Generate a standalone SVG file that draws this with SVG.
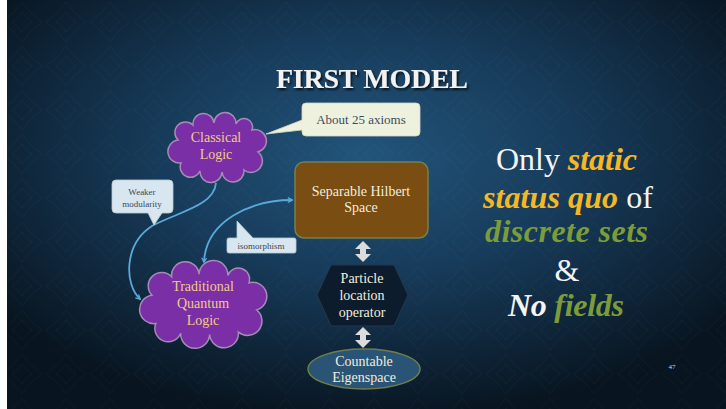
<svg xmlns="http://www.w3.org/2000/svg" width="726" height="409" viewBox="0 0 726 409">
<defs>
<radialGradient id="bg" cx="0.5" cy="0.38" r="0.65">
<stop offset="0" stop-color="#22547a"/>
<stop offset="0.45" stop-color="#173b5a"/>
<stop offset="1" stop-color="#08141f"/>
</radialGradient>
<pattern id="dam" width="44" height="44" patternUnits="userSpaceOnUse">
<path d="M22 2 Q30 14 42 22 Q30 30 22 42 Q14 30 2 22 Q14 14 22 2 Z M22 12 Q26 18 32 22 Q26 26 22 32 Q18 26 12 22 Q18 18 22 12 Z" fill="none" stroke="#9cc4e4" stroke-width="1" opacity="0.035"/>
</pattern>
<filter id="sh" x="-10%" y="-20%" width="120%" height="150%">
<feDropShadow dx="1.5" dy="2" stdDeviation="1.2" flood-color="#000" flood-opacity="0.8"/>
</filter>
<marker id="ah" viewBox="0 0 10 10" refX="8" refY="5" markerWidth="6" markerHeight="6" orient="auto-start-reverse" markerUnits="userSpaceOnUse">
<path d="M1 1 L9 5 L1 9" fill="none" stroke="#5aa9dc" stroke-width="2"/>
</marker>
</defs>
<style>
.serif{font-family:"Liberation Serif","DejaVu Serif",serif}
.cloud{fill:#7b2fa6;stroke:#a58cb5;stroke-width:1.5}
.cl{fill:#f3c98a;font-size:14px;text-anchor:middle}
.call{fill:#d8e6ef;stroke:#b9cbd6;stroke-width:0.8}
.small{fill:#3a4858;font-size:9px;text-anchor:middle}
.wt{fill:#f2ecdd;font-size:14px;text-anchor:middle}
.conn{fill:none;stroke:#5aa9dc;stroke-width:1.8}
.dbl{fill:#dcdcdc}
.big{font-size:32px;text-anchor:middle}
.y{fill:#f4b824;font-weight:bold;font-style:italic}
.g{fill:#7b9c3a;font-weight:bold;font-style:italic}
.w{fill:#f4f4f4}
</style>
<rect x="0" y="0" width="726" height="409" fill="#ffffff"/>
<rect x="7" y="0" width="719" height="409" fill="url(#bg)"/>
<rect x="7" y="0" width="719" height="409" fill="url(#dam)"/>

<text class="serif" x="372" y="88" font-size="28" font-weight="bold" fill="#f2f2f2" text-anchor="middle" textLength="192" filter="url(#sh)">FIRST MODEL</text>

<g id="connectors">
<path class="conn" d="M216,183 C214,206 178,212 152,226 C124,244 124,284 140,299" marker-end="url(#ah)"/>
<path class="conn" d="M292,200 C252,200 206,220 204,262" marker-start="url(#ah)" marker-end="url(#ah)"/>
<path class="dbl" d="M363,241 L371,249 L366,249 L366,254 L371,254 L363,262 L355,254 L360,254 L360,249 L355,249 Z"/>
<path class="dbl" d="M363,327 L371,335 L366,335 L366,340 L371,340 L363,348 L355,340 L360,340 L360,335 L355,335 Z"/>
</g>

<g id="classical-logic">
<path class="cloud" d="M252,130 A1,1 0 0 1 258,152 A1,1 0 0 1 244,170 A1,1 0 0 1 222,172 A1,1 0 0 1 200,171 A1,1 0 0 1 181,163 A1,1 0 0 1 178,140 A1,1 0 0 1 193,125 A1,1 0 0 1 214,123 A1,1 0 0 1 236,124 A1,1 0 0 1 252,130 Z"/>
<text class="serif cl" x="216" y="142" font-size="13">Classical</text>
<text class="serif cl" x="216" y="159" font-size="13">Logic</text>
</g>

<g id="about-axioms">
<path d="M306,103 H416 Q420,103 420,107 V132 Q420,136 416,136 H306 Q302,136 302,132 V130 L266,134 L302,120 V107 Q302,103 306,103 Z" fill="#eef1dd" stroke="#d4d8c0" stroke-width="0.8"/>
<text class="serif" x="361" y="124" font-size="13" fill="#3d4b5c" text-anchor="middle">About 25 axioms</text>
</g>

<g id="weaker-modularity">
<path class="call" d="M116,180 H169 Q173,180 173,184 V209 Q173,213 169,213 H162 L154,225 L148,213 H116 Q112,213 112,209 V184 Q112,180 116,180 Z"/>
<text class="serif small" x="142" y="195">Weaker</text>
<text class="serif small" x="142" y="207">modularity</text>
</g>

<g id="hilbert-space">
<rect x="295" y="162" width="133" height="76" rx="9" fill="#7a4d12" stroke="#75804f" stroke-width="1.5"/>
<text class="serif wt" x="361" y="196" font-size="13">Separable Hilbert</text>
<text class="serif wt" x="361" y="212" font-size="13">Space</text>
</g>

<g id="isomorphism">
<path class="call" d="M229,238 H237 V221 L253,238 H294 Q296,238 296,240 V251 Q296,253 294,253 H229 Q227,253 227,251 V240 Q227,238 229,238 Z"/>
<text class="serif small" x="261" y="249">isomorphism</text>
</g>

<g id="traditional-quantum-logic">
<path class="cloud" d="M248.9,282.9 A1,1 0 0 1 256.7,309.9 A1,1 0 0 1 238.4,332.1 A1,1 0 0 1 209.6,334.5 A1,1 0 0 1 180.7,333.3 A1,1 0 0 1 155.8,323.5 A1,1 0 0 1 151.9,295.2 A1,1 0 0 1 171.6,276.7 A1,1 0 0 1 199.1,274.3 A1,1 0 0 1 227.9,275.5 A1,1 0 0 1 248.9,282.9 Z"/>
<text class="serif cl" x="203" y="291">Traditional</text>
<text class="serif cl" x="203" y="308">Quantum</text>
<text class="serif cl" x="203" y="325">Logic</text>
</g>

<g id="particle-location-operator">
<polygon points="317,295 331,265 394,265 408,295 394,326 331,326" fill="#0c1c2c" stroke="#23394f" stroke-width="1"/>
<text class="serif wt" x="362" y="283">Particle</text>
<text class="serif wt" x="362" y="300">location</text>
<text class="serif wt" x="362" y="317">operator</text>
</g>

<g id="countable-eigenspace">
<ellipse cx="364" cy="369" rx="56" ry="20" fill="#2a5475" stroke="#6f7d4c" stroke-width="1.5"/>
<text class="serif wt" x="364" y="366">Countable</text>
<text class="serif wt" x="364" y="382">Eigenspace</text>
</g>

<g id="statement">
<text class="serif big" x="566.5" y="170" textLength="141"><tspan class="w">Only </tspan><tspan class="y">static</tspan></text>
<text class="serif big" x="568" y="208" textLength="170"><tspan class="y">status quo</tspan><tspan class="w"> of</tspan></text>
<text class="serif big g" x="566.5" y="242" textLength="163">discrete sets</text>
<text class="serif big w" x="567" y="281">&amp;</text>
<text class="serif big" x="566" y="316" textLength="116"><tspan class="w" font-weight="bold" font-style="italic">No </tspan><tspan class="g">fields</tspan></text>
</g>

<text class="serif" x="672" y="369" font-size="7" fill="#cfd8e0" text-anchor="middle">47</text>
</svg>
